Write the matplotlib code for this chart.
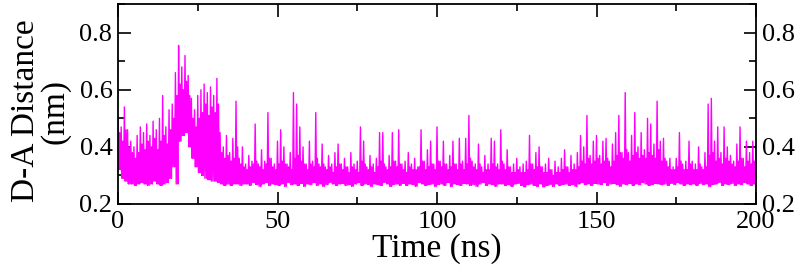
#!/usr/bin/env python
"""D-A distance over a 200 ns trajectory."""
import numpy as np
import matplotlib
matplotlib.use("Agg")
import matplotlib.pyplot as plt
from matplotlib.ticker import MultipleLocator

# per-ns readings: spike top, bottom of band, top of dense band
dist_hi = [
    0.50, 0.47, 0.54, 0.46, 0.42, 0.40, 0.44, 0.47, 0.45, 0.48,
    0.44, 0.49, 0.46, 0.50, 0.58, 0.47, 0.53, 0.55, 0.66, 0.755,
    0.68, 0.72, 0.65, 0.57, 0.53, 0.58, 0.60, 0.62, 0.59, 0.61,
    0.58, 0.64, 0.45, 0.40, 0.44, 0.38, 0.43, 0.56, 0.36, 0.40,
    0.34, 0.37, 0.35, 0.48, 0.34, 0.39, 0.35, 0.52, 0.36, 0.34,
    0.42, 0.46, 0.40, 0.34, 0.38, 0.59, 0.55, 0.47, 0.40, 0.34,
    0.42, 0.35, 0.52, 0.34, 0.41, 0.33, 0.37, 0.34, 0.38, 0.41,
    0.34, 0.36, 0.33, 0.38, 0.34, 0.35, 0.47, 0.42, 0.33, 0.37,
    0.34, 0.36, 0.45, 0.45, 0.33, 0.37, 0.45, 0.35, 0.46, 0.34,
    0.35, 0.38, 0.34, 0.36, 0.33, 0.46, 0.35, 0.39, 0.42, 0.34,
    0.47, 0.35, 0.42, 0.34, 0.37, 0.42, 0.34, 0.43, 0.35, 0.43,
    0.51, 0.35, 0.34, 0.41, 0.33, 0.37, 0.34, 0.43, 0.42, 0.34,
    0.46, 0.34, 0.39, 0.33, 0.34, 0.36, 0.33, 0.34, 0.35, 0.44,
    0.34, 0.38, 0.40, 0.33, 0.34, 0.36, 0.32, 0.35, 0.33, 0.36,
    0.39, 0.33, 0.37, 0.34, 0.38, 0.44, 0.40, 0.51, 0.37, 0.42,
    0.44, 0.37, 0.42, 0.43, 0.35, 0.41, 0.45, 0.51, 0.38, 0.59,
    0.38, 0.44, 0.52, 0.40, 0.45, 0.39, 0.50, 0.48, 0.41, 0.56,
    0.42, 0.43, 0.35, 0.36, 0.33, 0.36, 0.45, 0.34, 0.35, 0.42,
    0.35, 0.34, 0.40, 0.33, 0.38, 0.55, 0.57, 0.42, 0.47, 0.38,
    0.47, 0.40, 0.37, 0.35, 0.41, 0.47, 0.36, 0.42, 0.38, 0.42,
]
dist_lo = [
    0.32, 0.29, 0.28, 0.27, 0.27, 0.265, 0.27, 0.275, 0.27, 0.265,
    0.27, 0.28, 0.27, 0.265, 0.27, 0.275, 0.29, 0.33, 0.27, 0.42,
    0.44, 0.45, 0.40, 0.36, 0.33, 0.31, 0.30, 0.29, 0.285, 0.28,
    0.28, 0.275, 0.27, 0.265, 0.27, 0.265, 0.27, 0.27, 0.265, 0.27,
    0.27, 0.265, 0.275, 0.268, 0.262, 0.27, 0.275, 0.265, 0.27, 0.268,
    0.265, 0.27, 0.262, 0.275, 0.268, 0.27, 0.265, 0.272, 0.262, 0.27,
    0.268, 0.275, 0.265, 0.27, 0.262, 0.268, 0.275, 0.27, 0.265, 0.27,
    0.272, 0.265, 0.268, 0.262, 0.27, 0.275, 0.265, 0.27, 0.268, 0.262,
    0.27, 0.268, 0.265, 0.275, 0.27, 0.262, 0.268, 0.27, 0.265, 0.272,
    0.265, 0.27, 0.268, 0.262, 0.275, 0.27, 0.265, 0.268, 0.27, 0.262,
    0.268, 0.27, 0.265, 0.275, 0.262, 0.27, 0.268, 0.265, 0.272, 0.27,
    0.265, 0.268, 0.262, 0.27, 0.275, 0.265, 0.27, 0.268, 0.262, 0.27,
    0.27, 0.265, 0.268, 0.262, 0.27, 0.272, 0.265, 0.26, 0.268, 0.27,
    0.265, 0.262, 0.27, 0.26, 0.265, 0.268, 0.262, 0.27, 0.265, 0.268,
    0.27, 0.265, 0.268, 0.262, 0.27, 0.275, 0.268, 0.27, 0.265, 0.272,
    0.27, 0.268, 0.275, 0.265, 0.27, 0.272, 0.268, 0.262, 0.27, 0.268,
    0.272, 0.265, 0.27, 0.268, 0.275, 0.27, 0.265, 0.268, 0.272, 0.27,
    0.268, 0.27, 0.265, 0.272, 0.268, 0.275, 0.27, 0.265, 0.27, 0.268,
    0.27, 0.265, 0.272, 0.268, 0.27, 0.262, 0.268, 0.27, 0.275, 0.265,
    0.27, 0.268, 0.272, 0.265, 0.27, 0.268, 0.275, 0.27, 0.265, 0.27,
]
dist_mid = [
    0.45, 0.42, 0.46, 0.40, 0.38, 0.36, 0.38, 0.41, 0.39, 0.42,
    0.40, 0.43, 0.39, 0.42, 0.44, 0.41, 0.46, 0.50, 0.58, 0.62,
    0.60, 0.63, 0.58, 0.50, 0.47, 0.50, 0.52, 0.55, 0.51, 0.54,
    0.52, 0.55, 0.38, 0.36, 0.37, 0.35, 0.36, 0.40, 0.34, 0.33,
    0.32, 0.33, 0.34, 0.35, 0.33, 0.32, 0.34, 0.36, 0.33, 0.32,
    0.34, 0.35, 0.34, 0.33, 0.32, 0.36, 0.37, 0.35, 0.34, 0.32,
    0.34, 0.33, 0.36, 0.33, 0.34, 0.32, 0.33, 0.31, 0.33, 0.34,
    0.32, 0.33, 0.31, 0.33, 0.32, 0.31, 0.35, 0.34, 0.32, 0.33,
    0.31, 0.33, 0.35, 0.34, 0.32, 0.33, 0.35, 0.33, 0.34, 0.32,
    0.31, 0.33, 0.32, 0.32, 0.33, 0.35, 0.32, 0.33, 0.34, 0.32,
    0.35, 0.33, 0.34, 0.32, 0.33, 0.34, 0.32, 0.34, 0.32, 0.34,
    0.36, 0.33, 0.32, 0.34, 0.31, 0.32, 0.32, 0.34, 0.33, 0.32,
    0.35, 0.32, 0.33, 0.31, 0.31, 0.32, 0.31, 0.31, 0.32, 0.34,
    0.32, 0.33, 0.33, 0.31, 0.31, 0.32, 0.30, 0.31, 0.31, 0.32,
    0.33, 0.31, 0.32, 0.32, 0.33, 0.35, 0.34, 0.36, 0.34, 0.35,
    0.36, 0.34, 0.35, 0.36, 0.33, 0.35, 0.37, 0.38, 0.36, 0.39,
    0.35, 0.37, 0.38, 0.36, 0.37, 0.36, 0.38, 0.37, 0.36, 0.39,
    0.35, 0.36, 0.33, 0.32, 0.32, 0.33, 0.35, 0.32, 0.32, 0.34,
    0.32, 0.32, 0.34, 0.32, 0.33, 0.37, 0.38, 0.35, 0.36, 0.34,
    0.36, 0.35, 0.34, 0.33, 0.35, 0.36, 0.33, 0.35, 0.34, 0.35,
]

x_ticks = [0, 50, 100, 150, 200]
y_ticks = [0.2, 0.4, 0.6, 0.8]

plt.rcParams['font.family'] = ['Liberation Serif', 'DejaVu Serif']

# four samples per ns: spike, floor, band top, floor
dist = []
for h, l, m in zip(dist_hi, dist_lo, dist_mid):
    dist += [h, l, m, l]
dist = np.array(dist)
time = np.arange(len(dist)) / 4.0

fig = plt.figure(figsize=(8, 2.72), dpi=100)
ax = fig.add_axes([0.1475, 0.25, 0.7975, 0.735])

ax.plot(time, dist, color='#ff00ff', lw=1.0)

ax.set_xlim(0, 200)
ax.set_ylim(0.2, 0.9)
ax.set_xticks(x_ticks)
ax.set_yticks(y_ticks)
ax.xaxis.set_minor_locator(MultipleLocator(25))
ax.yaxis.set_minor_locator(MultipleLocator(0.1))
ax.tick_params(which='both', direction='in', top=True, right=True,
               labelright=True, width=1.2, labelsize=19)
ax.tick_params(which='major', length=9)
ax.tick_params(which='minor', length=5)
ax.tick_params(axis='x', pad=5)
ax.tick_params(axis='y', pad=4)
for s in ax.spines.values():
    s.set_linewidth(1.3)

ax.set_xlabel('Time (ns)', fontsize=24, labelpad=0)
ax.set_ylabel('D-A Distance\n(nm)', fontsize=24, linespacing=0.95)
ax.yaxis.set_label_coords(-0.074, 0.465)

fig.savefig('out.png', dpi=100)
